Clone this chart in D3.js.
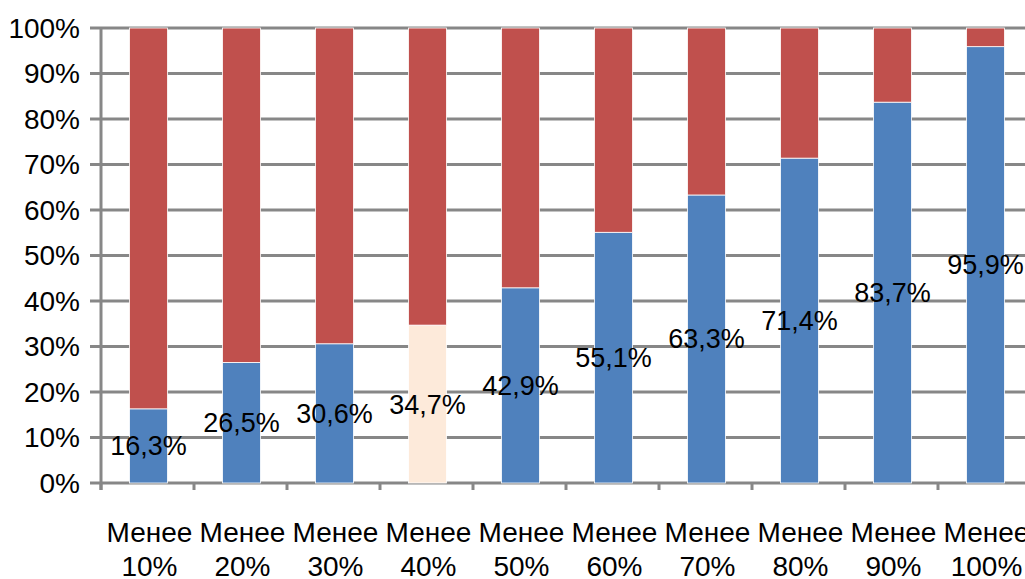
<!DOCTYPE html>
<html><head><meta charset="utf-8">
<script src="https://cdn.jsdelivr.net/npm/d3@7"></script>
<style>html,body{margin:0;padding:0;background:#fff;overflow:hidden}svg{display:block}text{font-family:"Liberation Sans",Arial,sans-serif;fill:#000}</style>
</head><body><svg id="c" width="1025" height="579"></svg>
<script>
const categories = ["Менее 10%","Менее 20%","Менее 30%","Менее 40%","Менее 50%","Менее 60%","Менее 70%","Менее 80%","Менее 90%","Менее 100%"];
const blueValues = [16.3, 26.5, 30.6, 34.7, 42.9, 55.1, 63.3, 71.4, 83.7, 95.9];
const redValues = [83.7, 73.5, 69.4, 65.3, 57.1, 44.9, 36.7, 28.6, 16.3, 4.1];
const labels = ["16,3%","26,5%","30,6%","34,7%","42,9%","55,1%","63,3%","71,4%","83,7%","95,9%"];
const yTicks = [0,10,20,30,40,50,60,70,80,90,100];
const highlightIndex = 3;

const svg = d3.select("#c");
const x = d3.scaleBand().domain(categories).range([101, 1031]).paddingInner(0).paddingOuter(0);
const y = d3.scaleLinear().domain([0,100]).range([483, 28]);
const grid = "#878787";
const barW = 38;
const bx = c => x(c) + x.bandwidth()/2 + 1 - barW/2;

// gridlines
svg.append("g").selectAll("line").data(yTicks).join("line")
  .attr("x1", 90).attr("x2", 1025)
  .attr("y1", d => y(d)).attr("y2", d => y(d))
  .attr("stroke", grid).attr("stroke-width", 3);

// y axis line
svg.append("line").attr("x1", 101).attr("x2", 101).attr("y1", 27).attr("y2", 490)
  .attr("stroke", grid).attr("stroke-width", 3);

// x ticks
svg.append("g").selectAll("line").data(categories).join("line")
  .attr("x1", d => x(d)).attr("x2", d => x(d))
  .attr("y1", 483).attr("y2", 490)
  .attr("stroke", grid).attr("stroke-width", 3);

// y labels
svg.append("g").selectAll("text").data(yTicks).join("text")
  .attr("x", 80).attr("y", d => y(d)).attr("dy", "0.35em")
  .attr("text-anchor", "end").attr("font-size", 28)
  .text(d => d + "%");

// bars
const g = svg.append("g");
g.selectAll("rect.blue").data(categories).join("rect").attr("class","blue")
  .attr("x", d => bx(d)).attr("width", barW)
  .attr("y", (d,i) => y(blueValues[i])).attr("height", (d,i) => y(0) - y(blueValues[i]))
  .attr("fill", (d,i) => i === highlightIndex ? "#FDEADA" : "#4F81BD")
  .attr("stroke", "#fff").attr("stroke-width", 0.8);
g.selectAll("rect.red").data(categories).join("rect").attr("class","red")
  .attr("x", d => bx(d)).attr("width", barW)
  .attr("y", (d,i) => y(blueValues[i] + redValues[i])).attr("height", (d,i) => y(blueValues[i]) - y(blueValues[i] + redValues[i]))
  .attr("fill", "#C0504D")
  .attr("stroke", "#fff").attr("stroke-width", 0.8);

// data labels
svg.append("g").selectAll("text").data(categories).join("text")
  .attr("x", d => bx(d) + barW/2)
  .attr("y", (d,i) => y(blueValues[i]/2)).attr("dy", "0.35em")
  .attr("text-anchor", "middle").attr("font-size", 27)
  .text((d,i) => labels[i]);

// x labels
const xl = svg.append("g").selectAll("text").data(categories).join("text")
  .attr("text-anchor", "middle").attr("font-size", 28);
xl.each(function(d){
  const parts = d.split(" ");
  const t = d3.select(this);
  const cx = bx(d) + barW/2 + 1;
  t.append("tspan").attr("x", cx).attr("y", 542).text(parts[0]);
  t.append("tspan").attr("x", cx).attr("y", 576).text(parts[1]);
});
</script></body></html>
